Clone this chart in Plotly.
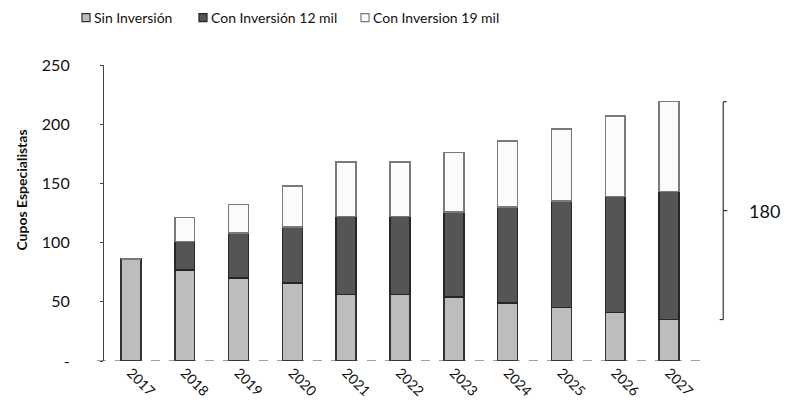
import plotly.graph_objects as go

years = ["2017", "2018", "2019", "2020", "2021", "2022", "2023", "2024", "2025", "2026", "2027"]
sin_inversion = [86, 77, 70, 66, 56, 56, 54, 49, 45, 41, 35]
con_inversion_12 = [0, 24, 38, 47, 66, 66, 72, 81, 90, 98, 108]
con_inversion_19 = [0, 20, 24, 35, 46, 46, 50, 56, 61, 68, 76]
series_names = ["Sin Inversión", "Con Inversión 12 mil", "Con Inversion 19 mil"]
series_fill = ["#bdbdbd", "#555555", "#fbfbfb"]
series_edge = ["#333333", "#262626", "#7a7a7a"]
y_tick_vals = [0, 50, 100, 150, 200, 250]
y_tick_text = ["-", "50", "100", "150", "200", "250"]
gap_label = "180"
y_title = "Cupos Especialistas"

FONT = "Lato, 'Open Sans', sans-serif"

fig = go.Figure()
for vals, name, fc, ec in zip([sin_inversion, con_inversion_12, con_inversion_19],
                              series_names, series_fill, series_edge):
    fig.add_trace(go.Bar(x=years, y=vals, name=name, showlegend=False,
                         marker=dict(color=fc, line=dict(color=ec, width=1.5))))

# bracket showing the gap in the last year
last_low = sin_inversion[-1]
last_high = sin_inversion[-1] + con_inversion_12[-1] + con_inversion_19[-1]
mid = (last_low + last_high) / 2
bx = 1.046
lc = dict(color="#333", width=1.2)
shapes = [
    dict(type="line", xref="paper", yref="y", x0=bx, x1=bx, y0=last_low, y1=last_high, line=lc),
    dict(type="line", xref="paper", yref="y", x0=bx, x1=bx + 0.006, y0=last_high, y1=last_high, line=lc),
    dict(type="line", xref="paper", yref="y", x0=bx - 0.006, x1=bx, y0=last_low, y1=last_low, line=lc),
    dict(type="line", xref="paper", yref="y", x0=bx, x1=bx + 0.007, y0=mid, y1=mid, line=lc),
    dict(type="line", xref="paper", yref="y", x0=-0.012, x1=1.015, y0=0, y1=0,
         line=dict(color="#444", width=1.2, dash="dash")),
]

annotations = [
    dict(text=gap_label, xref="paper", yref="y", x=1.087, y=mid, xanchor="left", yanchor="middle",
         showarrow=False, borderpad=0, font=dict(size=18, color="#111", family=FONT)),
    dict(text="<b>" + y_title + "</b>", xref="paper", yref="paper", x=-0.139, y=0.578,
         textangle=-90, showarrow=False, xanchor="center", yanchor="middle",
         font=dict(size=14, color="#111", family=FONT)),
]

# custom legend (marker squares + labels)
legend_marker_x = [-0.0304, 0.1672, 0.4409]
ly = 1.16
for name, fc, ec, mx in zip(series_names, series_fill, series_edge, legend_marker_x):
    shapes.append(dict(type="rect", xref="paper", yref="paper",
                       x0=mx - 0.0068, x1=mx + 0.0068, y0=ly - 0.0135, y1=ly + 0.0135,
                       fillcolor=fc, line=dict(color=ec, width=1.2)))
    annotations.append(dict(text=name, xref="paper", yref="paper", x=mx + 0.012, y=ly,
                            xanchor="left", yanchor="middle", showarrow=False, borderpad=0,
                            font=dict(size=14, color="#111", family=FONT)))

# page body has an 8px margin, so the figure is sized/offset to land on the 792x416 view
fig.update_layout(
    width=784, height=408,
    barmode="stack", bargap=0.63,
    plot_bgcolor="white", paper_bgcolor="white",
    margin=dict(l=96, r=96, t=57, b=55, autoexpand=False),
    font=dict(family=FONT, color="#111", size=14),
    showlegend=False,
    shapes=shapes, annotations=annotations,
)
fig.update_yaxes(range=[0, 250], tickvals=y_tick_vals, ticktext=y_tick_text,
                 showgrid=False, zeroline=False, showline=True, linecolor="#444", linewidth=1.2,
                 ticks="outside", ticklen=3, tickcolor="#444", ticklabelstandoff=27,
                 tickfont=dict(size=16, family=FONT, color="#111"))
fig.update_xaxes(showgrid=False, showline=False, tickangle=45, ticks="",
                 tickfont=dict(size=14, family=FONT, color="#111"))

fig.write_html("out.html")
